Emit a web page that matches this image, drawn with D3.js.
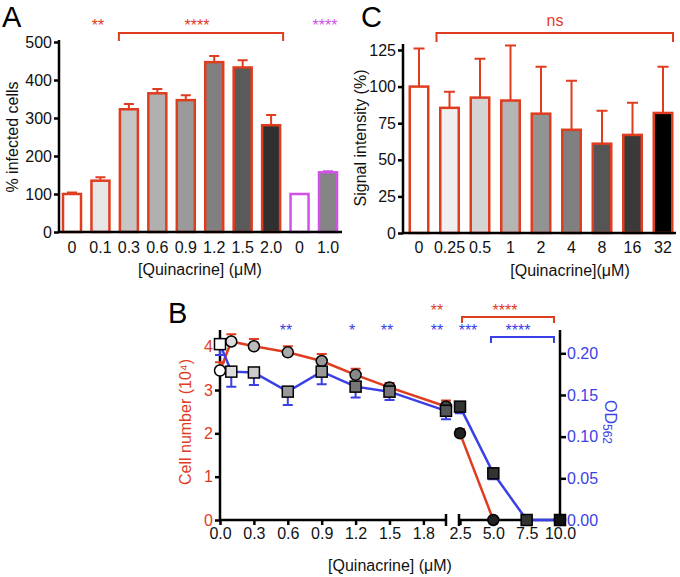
<!DOCTYPE html>
<html><head><meta charset="utf-8">
<script src="https://cdn.jsdelivr.net/npm/d3@7"></script>
<style>body{margin:0;background:#fff}svg{display:block}text{font-family:"Liberation Sans",Arial,sans-serif}</style>
</head><body>
<svg id="c" width="680" height="577"></svg>
<script>
// ---------- DATA ----------
// Panel A
const A_labels = ["0","0.1","0.3","0.6","0.9","1.2","1.5","2.0","0","1.0"];
const A_values = [100,135,323,365,347,447,433,281,100,157];
const A_sem    = [4,9,14,11,13,16,19,27,0,3];
const A_group  = ["q","q","q","q","q","q","q","q","m","m"];
const A_yTicks = [0,100,200,300,400,500];
// Panel C
const C_labels = ["0","0.25","0.5","1","2","4","8","16","32"];
const C_values = [100,85.5,92.5,90.5,81.5,70.5,61,67,82];
const C_sd     = [26,11,26.5,37.5,32,33.5,22.5,22,31.5];
const C_yTicks = [0,25,50,75,100,125];
// Panel B
const B_dose    = [0,0.1,0.3,0.6,0.9,1.2,1.5,2.0,2.5,5.0,7.5,10.0];
const B_cells   = [3.45,4.12,4.01,3.87,3.67,3.35,3.06,2.62,2.0,0,null,0];
const B_cellErr = [0.19,0.17,0.17,0.14,0.16,0.14,0.10,0.14,0.10,0,null,0];
const B_od      = [0.211,0.178,0.177,0.154,0.178,0.160,0.154,0.131,0.136,0.056,0,0];
const B_odErr   = [0.013,0.018,0.015,0.016,0.015,0.013,0.010,0.010,0.008,0.007,0,0];
const B_xTicks1 = [0,0.3,0.6,0.9,1.2,1.5,1.8];
const B_xTicks2 = [2.5,5.0,7.5,10.0];
const B_yTicksL = [0,1,2,3,4];
const B_yTicksR = [0,0.05,0.10,0.15,0.20];

// ---------- STYLES ----------
const RED = "#e03c1f", BLUE = "#3b3fe6", MAG = "#d052e8";
const A_fill = ["#ffffff","#e6e6e6","#c6c6c6","#b0b0b0","#9a9a9a","#808080","#5a5a5a","#303030","#ffffff","#858585"];
const C_fill = ["#ffffff","#efefef","#d4d4d4","#b4b4b4","#939393","#808080","#555555","#3a3a3a","#000000"];
const B_cFill = ["#ffffff","#dddddd","#bbbbbb","#aaaaaa","#999999","#888888","#666666","#444444","#222222","#222222","#111111","#111111"];
const B_sFill = ["#ffffff","#dddddd","#cccccc","#999999","#999999","#777777","#777777","#555555","#333333","#333333","#333333","#111111"];

const svg = d3.select("#c");
const FS = 16;

function text(g, x, y, s, opts={}) {
  const t = g.append("text").attr("x", x).attr("y", y).text(s)
    .attr("font-size", opts.size || FS).attr("fill", opts.fill || "#111")
    .attr("text-anchor", opts.anchor || "middle");
  if (opts.rotate) t.attr("transform", `rotate(${opts.rotate},${x},${y})`);
  return t;
}
function bracket(g, x1, x2, y, h, color) {
  g.append("path").attr("d", `M${x1},${y+h}V${y}H${x2}V${y+h}`)
    .attr("fill", "none").attr("stroke", color).attr("stroke-width", 2);
}

// ================= PANEL A =================
{
  const g = svg.append("g");
  const y = d3.scaleLinear().domain([0,500]).range([232,42]);
  const x = d3.scalePoint().domain(d3.range(A_labels.length)).range([72,328]);
  const bw = 18;
  const col = i => A_group[i] === "m" ? MAG : RED;
  A_values.forEach((v,i) => {
    if (!A_sem[i]) return;
    g.append("path").attr("d", `M${x(i)},${y(v)}V${y(v+A_sem[i])}M${x(i)-5},${y(v+A_sem[i])}H${x(i)+5}`)
      .attr("stroke", col(i)).attr("stroke-width", 2).attr("fill","none");
  });
  g.selectAll("rect.b").data(A_values).join("rect")
    .attr("x", (d,i) => x(i)-bw/2).attr("width", bw)
    .attr("y", d => y(d)).attr("height", d => y(0)-y(d))
    .attr("fill", (d,i) => A_fill[i]).attr("stroke", (d,i) => col(i)).attr("stroke-width", 2.5);
  const ax = g.append("g").attr("transform", "translate(59,0)")
    .call(d3.axisLeft(y).tickValues(A_yTicks).tickSize(5).tickPadding(2).tickSizeOuter(0));
  ax.select(".domain").attr("stroke-width", 2.5).attr("d", `M0,40V${y(0)}`);
  ax.selectAll(".tick line").attr("stroke-width", 2.5);
  ax.selectAll("text").attr("font-size", FS).attr("fill","#111").attr("font-family","Liberation Sans, Arial");
  g.append("line").attr("x1", 58).attr("x2", 342).attr("y1", y(0)).attr("y2", y(0)).attr("stroke","#000").attr("stroke-width",2.5);
  A_labels.forEach((l,i) => text(g, x(i), 253, l));
  text(g, 200, 275, "[Quinacrine] (μM)");
  text(g, 18, 137, "% infected cells", {rotate:-90});
  text(g, 2, 27, "A", {size:29, anchor:"start", fill:"#000"});
  text(g, 98, 31, "**", {fill:RED});
  text(g, 197, 31, "****", {fill:RED});
  text(g, 325, 31, "****", {fill:MAG});
  bracket(g, x(2)-10, x(7)+12, 33, 8, RED);
}

// ================= PANEL C =================
{
  const g = svg.append("g");
  const y = d3.scaleLinear().domain([0,125]).range([233,50]);
  const x = d3.scalePoint().domain(d3.range(C_labels.length)).range([419,663]);
  const bw = 18.5;
  C_values.forEach((v,i) => {
    g.append("path").attr("d", `M${x(i)},${y(v)}V${y(v+C_sd[i])}M${x(i)-5.5},${y(v+C_sd[i])}H${x(i)+5.5}`)
      .attr("stroke", RED).attr("stroke-width", 2).attr("fill","none");
  });
  g.selectAll("rect.b").data(C_values).join("rect")
    .attr("x", (d,i) => x(i)-bw/2).attr("width", bw)
    .attr("y", d => y(d)).attr("height", d => y(0)-y(d))
    .attr("fill", (d,i) => C_fill[i]).attr("stroke", RED).attr("stroke-width", 2.5);
  const ax = g.append("g").attr("transform", "translate(403,0)")
    .call(d3.axisLeft(y).tickValues(C_yTicks).tickSize(5).tickPadding(2).tickSizeOuter(0));
  ax.select(".domain").attr("stroke-width", 2.5).attr("d", `M0,44V${y(0)}`);
  ax.selectAll(".tick line").attr("stroke-width", 2.5);
  ax.selectAll("text").attr("font-size", FS).attr("fill","#111").attr("font-family","Liberation Sans, Arial");
  g.append("line").attr("x1", 402).attr("x2", 676).attr("y1", y(0)).attr("y2", y(0)).attr("stroke","#000").attr("stroke-width",2.5);
  C_labels.forEach((l,i) => text(g, x(i), 253, l));
  text(g, 570, 276, "[Quinacrine](μM)");
  text(g, 366, 138, "Signal intensity (%)", {rotate:-90});
  text(g, 361, 27, "C", {size:29, anchor:"start", fill:"#000"});
  text(g, 555, 26, "ns", {fill:RED});
  bracket(g, x(1)-13, x(8)+10, 33, 9, RED);
}

// ================= PANEL B =================
{
  const g = svg.append("g");
  const x1 = d3.scaleLinear().domain([0,2.0]).range([220,446]);
  const x2 = d3.scaleLinear().domain([2.5,10]).range([460,560]);
  const xf = d => d <= 2.0 ? x1(d) : x2(d);
  const yL = d3.scaleLinear().domain([0,4]).range([520,346.7]);
  const yR = d3.scaleLinear().domain([0,0.2]).range([520,353.3]);
  const seg = d => d <= 2.0 ? 0 : 1;

  const axL = g.append("g").attr("transform","translate(220,0)")
    .call(d3.axisLeft(yL).tickValues(B_yTicksL).tickFormat(d3.format("d")).tickSize(5).tickPadding(2).tickSizeOuter(0));
  axL.select(".domain").attr("stroke-width",2.5).attr("d","M0,330V521");
  axL.selectAll(".tick line").attr("stroke-width",2.5);
  axL.selectAll("text").attr("font-size",FS).attr("fill",RED).attr("font-family","Liberation Sans, Arial");
  const axR = g.append("g").attr("transform","translate(560,0)")
    .call(d3.axisRight(yR).tickValues(B_yTicksR).tickFormat(d3.format(".2f")).tickSize(6).tickPadding(1).tickSizeOuter(0));
  axR.select(".domain").attr("stroke-width",2.5).attr("d","M0,330V521");
  axR.selectAll(".tick line").attr("stroke-width",2.5);
  axR.selectAll("text").attr("font-size",FS).attr("fill",BLUE).attr("font-family","Liberation Sans, Arial");
  const axX1 = g.append("g").attr("transform","translate(0,520)")
    .call(d3.axisBottom(x1).tickValues(B_xTicks1).tickFormat(d3.format(".1f")).tickSize(5).tickPadding(3).tickSizeOuter(0));
  axX1.select(".domain").attr("stroke-width",2.5).attr("d",`M219,0H${x1(2.0)}`);
  const axX2 = g.append("g").attr("transform","translate(0,520)")
    .call(d3.axisBottom(x2).tickValues(B_xTicks2).tickFormat(d3.format(".1f")).tickSize(5).tickPadding(3).tickSizeOuter(0));
  axX2.select(".domain").attr("stroke-width",2.5).attr("d",`M${x2(2.5)-1},0H560`);
  [axX1, axX2].forEach(a => {
    a.selectAll(".tick line").attr("stroke-width",2.5);
    a.selectAll("text").attr("font-size",FS).attr("fill","#111").attr("font-family","Liberation Sans, Arial");
  });
  [x1(2.0), x2(2.5)-1].forEach(cx => g.append("line").attr("x1",cx).attr("x2",cx).attr("y1",514).attr("y2",526).attr("stroke","#000").attr("stroke-width",2.5));

  const pts = B_dose.map((d,i) => ({d, i, c:B_cells[i], o:B_od[i]}));
  const lineC = d3.line().defined(p => p.c !== null).x(p => xf(p.d)).y(p => yL(p.c));
  const lineO = d3.line().x(p => xf(p.d)).y(p => yR(p.o));
  [0,1].forEach(s => {
    const sp = pts.filter(p => seg(p.d) === s);
    g.append("path").attr("d", lineC(sp)).attr("fill","none").attr("stroke",RED).attr("stroke-width",2.5);
  });
  [0,1].forEach(s => {
    const sp = pts.filter(p => seg(p.d) === s);
    g.append("path").attr("d", lineO(sp)).attr("fill","none").attr("stroke",BLUE).attr("stroke-width",2.5);
  });
  pts.forEach(p => {
    if (p.c !== null && B_cellErr[p.i] > 0) {
      const X = xf(p.d), Y0 = yL(p.c), Y1 = yL(p.c + B_cellErr[p.i]);
      g.append("path").attr("d",`M${X},${Y0}V${Y1}M${X-5},${Y1}H${X+5}`).attr("stroke",RED).attr("stroke-width",2).attr("fill","none");
    }
    if (B_odErr[p.i] > 0) {
      const X = xf(p.d), Y0 = yR(p.o), Y1 = yR(p.o - B_odErr[p.i]);
      g.append("path").attr("d",`M${X},${Y0}V${Y1}M${X-5},${Y1}H${X+5}`).attr("stroke",BLUE).attr("stroke-width",2).attr("fill","none");
    }
  });
  g.selectAll("circle.m").data(pts.filter(p => p.c !== null)).join("circle")
    .attr("cx", p => xf(p.d)).attr("cy", p => yL(p.c)).attr("r", 5.5)
    .attr("fill", p => B_cFill[p.i]).attr("stroke","#000").attr("stroke-width",1.5);
  const sq = 11;
  g.selectAll("rect.m").data(pts).join("rect")
    .attr("x", p => xf(p.d)-sq/2).attr("y", p => yR(p.o)-sq/2).attr("width",sq).attr("height",sq)
    .attr("fill", p => B_sFill[p.i]).attr("stroke","#000").attr("stroke-width",1.5);

  text(g, 390, 571, "[Quinacrine] (μM)");
  text(g, 191, 422, "Cell number (10⁴)", {rotate:-90, fill:RED});
  const od = g.append("text").attr("x",605).attr("y",422).attr("text-anchor","middle")
    .attr("font-size",FS).attr("fill",BLUE).attr("transform","rotate(90,605,422)");
  od.append("tspan").text("OD");
  od.append("tspan").text("562").attr("font-size",12).attr("dy",2);
  text(g, 168, 323, "B", {size:29, anchor:"start", fill:"#000"});
  text(g, 437, 316, "**", {fill:RED});
  text(g, 505, 316, "****", {fill:RED});
  bracket(g, 462, 554, 317, 6, RED);
  [[286,"**"],[352,"*"],[387,"**"],[437,"**"],[468,"***"],[518,"****"]].forEach(([cx,s]) => text(g, cx, 336, s, {fill:BLUE}));
  bracket(g, 491, 554, 337, 6, BLUE);
}
</script>
</body></html>
